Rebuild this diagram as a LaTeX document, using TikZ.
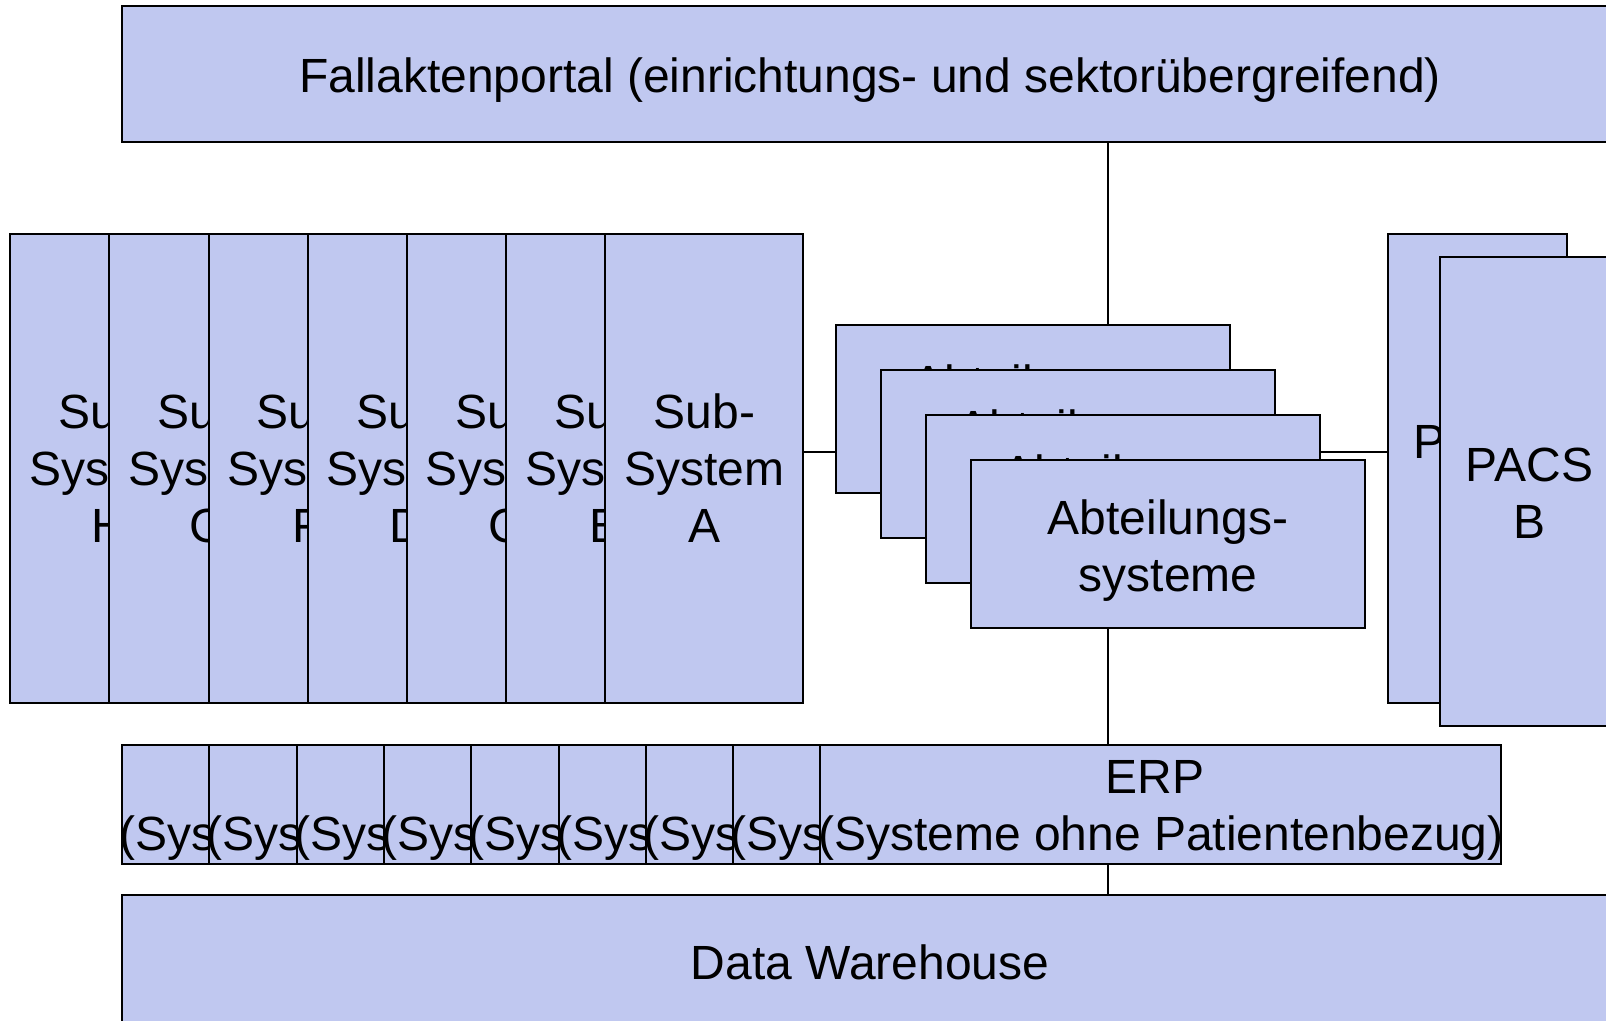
\documentclass[tikz,border=0pt]{standalone}
\usepackage{fontspec}
\setmainfont{Liberation Sans}
\definecolor{boxfill}{RGB}{192,200,240}
\pgfdeclarelayer{bg}
\pgfsetlayers{bg,main}
\begin{document}
\begin{tikzpicture}[x=1pt,y=-1pt,
  box/.style={draw=black, fill=boxfill, line width=2pt, rectangle, inner sep=0pt, outer sep=0pt, anchor=north west},
  txt/.style={font=\fontsize{48}{57}\selectfont, align=center, inner sep=0pt, text=black},
  conn/.style={draw=black, line width=2pt}]
\useasboundingbox (0,0) rectangle (1606,1020);
\clip (0,0) rectangle (1606,1020);

% top portal
\node[box, minimum width=1496pt, minimum height=136pt] (fall) at (122,6) {};
\node[txt] (fallt) at ([yshift=-6pt]fall.center) {Fallaktenportal (einrichtungs- und sektorübergreifend)};

% sub systems
\foreach \i/\nm in {0/H,1/G,2/F,3/D,4/C,5/B,6/A}{
  \node[box, minimum width=198pt, minimum height=469pt] (sub\nm) at ({10.2+99.2*\i},233.5) {};
  \node[txt] (subt\nm) at (sub\nm.center) {Sub-\\System\\\nm};
}

% Abteilungssysteme
\foreach \i in {1,...,4}{
  \node[box, minimum width=394pt, minimum height=168pt] (abt\i) at ({836+45*(\i-1)},{325+45*(\i-1)}) {};
  \node[txt] (abtt\i) at ([yshift=-7pt]abt\i.center) {Abteilungs-\\systeme};
}

% PACS
\node[box, minimum width=179pt, minimum height=469pt] (pacsA) at (1388,234) {};
\node[txt] (pacsAt) at ([yshift=-2pt]pacsA.center) {PACS\\A};
\node[box, minimum width=179pt, minimum height=469pt] (pacsB) at (1440,257) {};
\node[txt] (pacsBt) at ([yshift=-2pt]pacsB.center) {PACS\\B};

% ERP
\foreach \i in {0,...,8}{
  \node[box, minimum width=681pt, minimum height=119pt] (erp\i) at ({122+87.3*\i},745) {};
  \node[txt] (erpt\i) at ([yshift=-6pt]erp\i.center) {ERP\hspace*{12pt}\\(Systeme ohne Patientenbezug)};
}

% Data warehouse
\node[box, minimum width=1496pt, minimum height=134pt] (dw) at (122,895) {};
\node[txt] (dwt) at (dw.center) {Data Warehouse};

% connectors
\coordinate (vx) at (1108,0);
\coordinate (hy) at (0,452);
\begin{pgfonlayer}{bg}
\draw[conn] (fall.south -| vx) -- (dw.north -| vx);
\draw[conn] (subA.east |- hy) -- (pacsA.west |- hy);
\end{pgfonlayer}
\end{tikzpicture}
\end{document}
